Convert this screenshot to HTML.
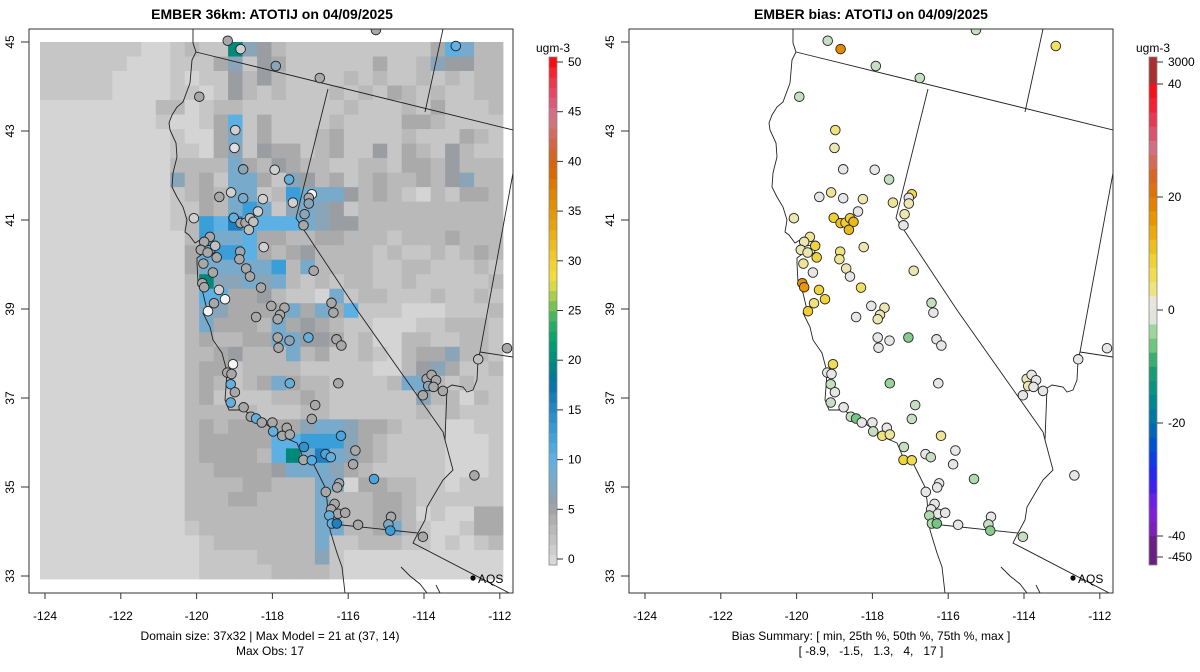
<!DOCTYPE html>
<html><head><meta charset="utf-8"><style>
html,body{margin:0;padding:0;background:#fff;}
svg{display:block;font-family:"Liberation Sans",Arial,sans-serif;}
</style></head><body>
<svg id="chart" width="1200" height="672" viewBox="0 0 1200 672" xmlns="http://www.w3.org/2000/svg">
<rect x="0" y="0" width="1200" height="672" fill="#fff"/>
<g id="left"></g>
<g id="right"></g>
</svg>
<script>
// ---- data ----
const lonTicks = [-124,-122,-120,-118,-116,-114,-112];
const latTicks = [45,43,41,39,37,35,33];
const modelTicks = [0,5,10,15,20,25,30,35,40,45,50];
const biasTickVals = [40,20,0,-20,-40];
const biasTickLabels = ["40","20","0","-20","-40"];
const gridRows = [
"1111111001211T542111111111137622",
"11111100011135143111111311254422",
"11111000010114242111121211212122",
"11111000011014212111212132121122",
"00000000220122111111121112131112",
"00000000100137131111211113321111",
"00000000010036131112311112111321",
"00000000011035143312311413214211",
"00000000022226324322112213324222",
"00000000052316631542312322324522",
"00000000012326612866642321021332",
"00000000011326861565412222222222",
"00000000012879777765442222222222",
"00000000002866733223322212223222",
"00000000003788732342222121121232",
"00000000003666668262222112211121",
"00000000002T55656212122112111112",
"00000000002773342110612211121121",
"00000000002653333636371110001112",
"00000000002633326343211000112221",
"00000000002322336644312002211221",
"00000000002234222623112102335221",
"00000000002331222211111002453112",
"00000000002321236322111126621211",
"00000000002311112232111111522021",
"00000000002222211122111111212111",
"00000000002323333356653321110011",
"00000000002333337788853211110001",
"00000000002333327T69653211110001",
"00000000002233334666532111110001",
"00000000002222332226603322110111",
"00000000002223322226222332111111",
"00000000002222222226222332010033",
"00000000001222222226622362100133",
"00000000000122222226112221101012",
"00000000000111122225100000000000",
"00000000000111112222100000000000"
];
const codeValues = {"0":1,"1":2,"2":3.5,"3":5,"4":6,"5":7,"6":8.5,"7":10.5,"8":13,"9":16,"T":20};
const stLon = [-119.18,-118.84,-117.91,-116.75,-115.27,-113.16,-119.93,-118.98,-119.0,-118.77,-117.94,-117.56,-119.40,-119.09,-118.77,-118.25,-117.46,-116.96,-117.04,-117.04,-117.15,-117.18,-118.38,-120.07,-119.02,-118.84,-118.71,-118.59,-118.50,-118.62,-119.65,-119.80,-119.51,-119.89,-119.71,-119.47,-118.85,-118.87,-119.82,-119.57,-118.69,-118.59,-118.23,-116.91,-119.85,-119.80,-119.41,-119.25,-118.30,-119.54,-116.44,-118.03,-117.68,-119.70,-117.80,-117.86,-118.43,-116.39,-117.86,-117.55,-117.84,-117.05,-116.31,-116.18,-119.04,-119.19,-119.08,-119.10,-118.99,-119.10,-118.76,-117.54,-116.26,-116.87,-116.96,-118.57,-118.43,-118.28,-118.00,-117.98,-117.62,-117.74,-117.54,-117.17,-117.18,-116.96,-116.60,-116.46,-116.19,-115.81,-115.87,-115.32,-116.24,-116.29,-116.59,-116.36,-116.45,-116.27,-116.08,-116.50,-116.43,-116.30,-115.74,-114.87,-114.94,-114.89,-114.03,-112.67,-111.81,-112.57,-113.93,-113.80,-113.68,-113.89,-113.75,-113.50,-114.03];
const stLat = [45.03,44.84,44.46,44.19,45.27,44.91,43.77,43.02,42.62,42.14,42.13,41.91,41.52,41.62,41.49,41.47,41.39,41.58,41.50,41.37,41.13,40.88,41.19,41.04,41.05,40.93,40.94,41.04,40.96,40.78,40.62,40.51,40.42,40.33,40.27,40.16,40.29,40.12,40.02,39.82,39.91,39.73,40.39,39.86,39.58,39.49,39.43,39.22,39.48,39.13,39.14,39.07,39.03,38.95,38.87,38.77,38.82,38.92,38.36,38.29,38.13,38.36,38.32,38.18,37.76,37.57,37.54,37.31,37.13,36.90,36.79,37.33,37.33,36.84,36.53,36.58,36.54,36.45,36.45,36.25,36.33,36.15,36.18,35.90,35.61,35.60,35.74,35.67,36.15,35.82,35.51,35.18,35.08,34.99,34.89,34.62,34.50,34.40,34.42,34.36,34.18,34.18,34.15,34.33,34.16,34.02,33.88,35.26,38.12,37.87,37.43,37.52,37.40,37.27,37.25,37.16,37.06];
const obsVals = [5,2,7,5,5,10,5,2,1,7,2,10,5,2,8,2,2,0,5,7,7,5,2,2,10,5,5,3,3,3,5,5,3,5,5,5,6,5,5,5,5,5,2,5,5,5,2,0,5,5,5,5,5,0,5,5,5,5,5,7,5,10,5,5,0,5,5,10,5,10,5,10,5,5,5,5,10,5,5,10,5,5,5,14,5,11,12,10,12,5,5,12,5,5,5,5,5,5,5,10,10,16,5,5,8,13,5,5,5,3,5,5,5,7,5,5,5];
const biasVals = [-2,18,-2,-2,-2,5,-2,4,2,0,0,-2,0,3,0,2,3,7,0,2,2,0,0,2,9,11,9,9,12,12,3,2,8,2,2,8,4,3,3,0,2,0,2,2,17,16,8,8,5,4,-2,0,2,9,2,2,0,0,0,0,0,-5,0,0,6,0,0,-2,0,-2,0,-4,0,-2,-2,-2,-6,0,0,-2,0,4,3,-2,8,6,0,-2,3,0,0,-3,0,0,0,0,0,0,0,-3,-3,-6,0,0,-2,-5,-2,0,0,0,2,0,0,2,0,0,0];

// ---- geometry (left panel pixel frame) ----
const NS="http://www.w3.org/2000/svg";
function px(lon){return 45+(lon+124)*37.9;}
function py(lat){return 42+(45-lat)*44.5;}
function mk(tag,attrs,parent){const e=document.createElementNS(NS,tag);for(const k in attrs)e.setAttribute(k,attrs[k]);parent.appendChild(e);return e;}
function lerpHex(a,b,t){const pa=[1,3,5].map(i=>parseInt(a.substr(i,2),16)),pb=[1,3,5].map(i=>parseInt(b.substr(i,2),16));return "rgb("+pa.map((v,i)=>Math.round(v+(pb[i]-v)*t)).join(",")+")";}
function ramp(stops,v){if(v<=stops[0][0])return stops[0][1];for(let i=1;i<stops.length;i++){if(v<=stops[i][0]){const t=(v-stops[i-1][0])/(stops[i][0]-stops[i-1][0]);return lerpHex(stops[i-1][1],stops[i][1],t);}}return stops[stops.length-1][1];}
const mStops=[[0,'#dcdcdc'],[1,'#d4d4d4'],[2,'#c6c6c6'],[3.5,'#b9b9b9'],[5,'#aaaaaa'],[6,'#9a9ea2'],[7,'#8aa4b8'],[8.5,'#78aacc'],[10.5,'#5cb0e4'],[13,'#3a9ed8'],[16,'#1f80c0'],[18,'#0072a4'],[20,'#00897a'],[22,'#00a070'],[24,'#30b060'],[26,'#90c850'],[28,'#f0e040'],[30,'#f0d030'],[33,'#e8a810'],[36,'#e08a00'],[39,'#d86400'],[42,'#d06850'],[44,'#d07890'],[46,'#e05070'],[48,'#f03040'],[50,'#ff0000']];
const obsStops=[[0,'#f4f4f4'],[1,'#e0e0e0'],[2,'#d0d0d0'],[3,'#c0c0c0'],[5,'#a8a8a8']].concat(mStops.slice(6));
const bStops=[[-40,'#7a20b0'],[-35,'#8020e0'],[-30,'#3020f0'],[-25,'#0048e0'],[-20,'#0070a8'],[-15,'#009088'],[-10,'#20a070'],[-7,'#60c078'],[-4,'#98d498'],[-2,'#c4e0c0'],[-1,'#e6e6e6'],[1,'#e6e6e6'],[2,'#ece6b0'],[5,'#f0e060'],[9,'#f0d030'],[12,'#ecb818'],[16,'#e89800'],[20,'#e07800'],[25,'#d86030'],[28,'#d07888'],[33,'#e04060'],[38,'#ff1020'],[40,'#e01818']];

const coast="M193,29 L193,43 L196,52 L192,60 L190,83 L183,102 L177,107 L172,115 L169,123 L170,130 L176,143 L177,157 L173,173 L172,187 L177,197 L183,207 L187,220 L185,232 L189,235 L195,243 L200,240 L206,246 L212,245 L215,252 L210,256 L205,252 L197,258 L197,263 L198,283 L203,293 L207,310 L203,313 L210,327 L213,340 L222,353 L227,372 L226,387 L225,400 L229,410 L243,410 L257,418 L270,427 L283,437 L297,443 L303,457 L313,463 L320,477 L325,487 L327,500 L328,513 L330,530 L333,540 L337,553 L342,567 L345,593";
const borders=[
"M196,52 L513,130",
"M443,29 L425,112",
"M328,89 L296,218 L357,310 L443,432",
"M443,432 L445,440 L453,470 L443,480 L437,490 L427,507 L425,520 L418,533",
"M445,440 L447,388 L452,385 L463,387 L467,392 L473,390 L477,380 L478,360 L480,352 L513,173",
"M480,352 L513,357",
"M332,524 L418,533 L413,543 L513,595",
"M401,567 L410,576 L420,584 L427,593",
"M436,585 L440,593"
];

function drawPanel(g,dx,isModel){
  const clip="clip"+dx;
  const defs=mk('defs',{},g);
  const cp=mk('clipPath',{id:clip},defs);
  mk('rect',{x:29+dx,y:29,width:484,height:564},cp);
  const plot=mk('g',{'clip-path':'url(#'+clip+')'},g);
  if(isModel){
    const cw=(503-40)/32, ch=(579-42)/37;
    const grid=mk('g',{},plot);
    
    
    gridRows.forEach((row,j)=>{for(let i=0;i<row.length;i++){
      const v=codeValues[row[i]];
      const r=mk('rect',{x:(40+i*cw).toFixed(2),y:(42+j*ch).toFixed(2),width:(cw+0.4).toFixed(2),height:(ch+0.4).toFixed(2),fill:ramp(mStops,v)},grid);
      
      
    }});
  }
  const cl=mk('path',{d:coast,fill:'none',stroke:'#222','stroke-width':0.9,transform:'translate('+dx+',0)'},plot);
  
  
  borders.forEach(d=>{const b=mk('path',{d:d,fill:'none',stroke:'#222','stroke-width':0.9,transform:'translate('+dx+',0)'},plot);
    
    });
  for(let k=0;k<stLon.length;k++){
    const fill=isModel?ramp(obsStops,obsVals[k]):ramp(bStops,biasVals[k]);
    const c=mk('circle',{cx:(px(stLon[k])+dx).toFixed(1),cy:py(stLat[k]).toFixed(1),r:4.8,fill:fill,stroke:'#222','stroke-width':0.9},plot);
    
    
  }
  const ad=mk('circle',{cx:473+dx,cy:578,r:2.6,fill:'#000'},g);
  
  
  const at=mk('text',{x:478+dx,y:583,'font-size':12,fill:'#000'},g);at.textContent='AQS';
  
  
  const box=mk('rect',{x:29+dx,y:29,width:484,height:564,fill:'none',stroke:'#333','stroke-width':1},g);
  
  
  lonTicks.forEach(l=>{const x=px(l)+dx;
    mk('line',{x1:x,y1:593,x2:x,y2:599,stroke:'#333'},g);
    const t=mk('text',{x:x,y:620,'font-size':12,'text-anchor':'middle',fill:'#000'},g);t.textContent=String(l);
    
    });
  latTicks.forEach(l=>{const y=py(l);
    mk('line',{x1:21+dx,y1:y,x2:29+dx,y2:y,stroke:'#333'},g);
    const t=mk('text',{x:0,y:0,'font-size':12,'text-anchor':'middle',fill:'#000',transform:'translate('+(14+dx)+','+y+') rotate(-90)'},g);t.textContent=String(l);
    
    });
}
const L=document.getElementById('left'),R=document.getElementById('right');
drawPanel(L,0,true);
drawPanel(R,600,false);

function txt(g,x,y,s,size,weight,name,anchor){const t=mk('text',{x:x,y:y,'font-size':size,'font-weight':weight||'normal','text-anchor':anchor||'middle',fill:'#000',style:'white-space:pre'},g);t.textContent=s;return t;}
txt(L,272,19,'EMBER 36km: ATOTIJ on 04/09/2025',14,'bold','model-title');
txt(R,871,19,'EMBER bias: ATOTIJ on 04/09/2025',14,'bold','bias-title');
txt(L,270,640,'Domain size: 37x32 | Max Model = 21 at (37, 14)',12,'normal','domain-summary');
txt(L,270,655,'Max Obs: 17',12,'normal','max-obs');
txt(R,871,640,'Bias Summary: [ min, 25th %, 50th %, 75th %, max ]',12,'normal','bias-summary-header');
txt(R,871,655,'[ -8.9,   -1.5,   1.3,   4,   17 ]',12,'normal','bias-summary-values');

// model colorbar
(function(){
  const g=mk('g',{},L);
  const y0=565,y1=57,n=50;const hh=(y0-y1)/n;
  for(let i=0;i<n;i++){mk('rect',{x:549,y:(y0-(i+1)*hh).toFixed(2),width:8,height:(hh+0.3).toFixed(2),fill:ramp(mStops,i+0.5)},g);}
  mk('rect',{x:549,y:y1,width:8,height:y0-y1,fill:'none',stroke:'#888','stroke-width':0.8},g);
  modelTicks.forEach(v=>{const y=559-v*9.94;mk('line',{x1:557,y1:y,x2:563,y2:y,stroke:'#333'},g);
    const t=mk('text',{x:568,y:y+4,'font-size':12,fill:'#000'},g);t.textContent=String(v);
    });
  txt(g,553,52,'ugm-3',12,'normal','colorbar-unit');
})();
// bias colorbar
(function(){
  const g=mk('g',{},R);
  const yb=v=>310-v*5.65;
  mk('rect',{x:1149,y:57,width:8,height:28,fill:'#a83030'},g);
  for(let v=-40;v<40;v+=2.5){mk('rect',{x:1149,y:yb(v+2.5).toFixed(2),width:8,height:(2.5*5.65+0.3).toFixed(2),fill:ramp(bStops,v+1.25)},g);}
  mk('rect',{x:1149,y:536,width:8,height:29,fill:'#6a2080'},g);
  mk('rect',{x:1149,y:57,width:8,height:508,fill:'none',stroke:'#888','stroke-width':0.8},g);
  const tk=(y,s)=>{mk('line',{x1:1157,y1:y,x2:1163,y2:y,stroke:'#333'},g);const t=mk('text',{x:1168,y:y+4,'font-size':12,fill:'#000'},g);t.textContent=s;};
  tk(62,'3000');
  biasTickVals.forEach((v,i)=>tk(yb(v),biasTickLabels[i]));
  tk(557,'-450');
  txt(g,1153,52,'ugm-3',12,'normal','colorbar-unit');
})();
</script>
</body></html>
